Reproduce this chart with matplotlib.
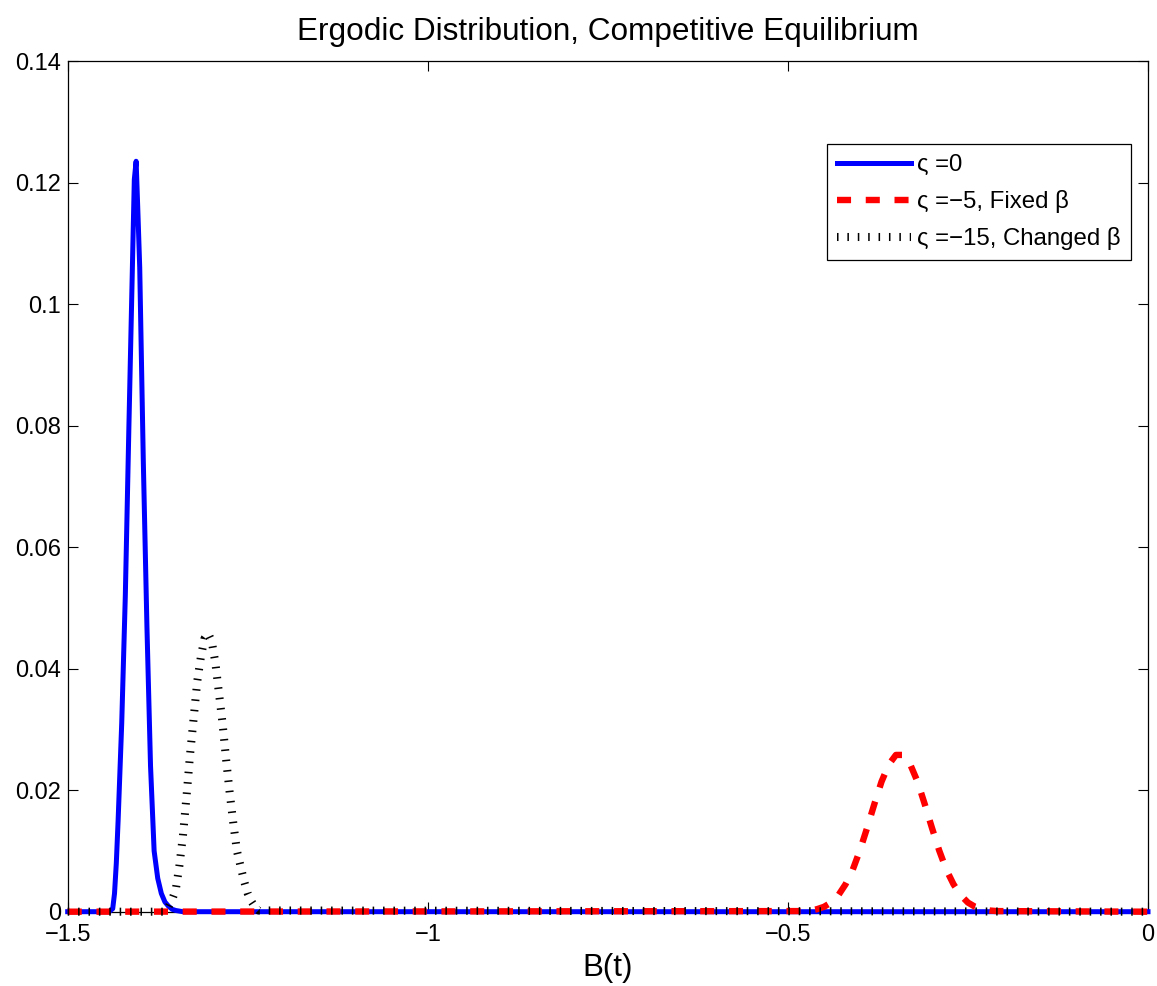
import matplotlib
matplotlib.use('Agg')
import matplotlib.pyplot as plt

# sigma = 0 (blue, solid)
x_blue = [-1.5, -1.4425, -1.4375, -1.435, -1.4325, -1.43, -1.425, -1.42, -1.415,
          -1.41, -1.4075, -1.405, -1.4025, -1.40, -1.395, -1.39, -1.385, -1.38,
          -1.375, -1.37, -1.365, -1.36, -1.355, -1.35, -1.345, -1.34, 0.0]
y_blue = [0.0, 0.0, 0.0005, 0.003, 0.008, 0.015, 0.031, 0.052, 0.080,
          0.107, 0.1205, 0.1235, 0.115, 0.106, 0.074, 0.047, 0.024, 0.010,
          0.0055, 0.003, 0.0016, 0.0009, 0.0004, 0.0002, 0.0001, 0.0, 0.0]

# sigma = -5, fixed beta (red, dashed)
x_red = [-1.5, -0.48, -0.47, -0.46, -0.45, -0.44, -0.43, -0.42, -0.41, -0.40,
         -0.39, -0.38, -0.37, -0.36, -0.35, -0.34, -0.33, -0.32, -0.31, -0.30,
         -0.29, -0.28, -0.27, -0.26, -0.25, -0.24, -0.23, -0.22, -0.21, 0.0]
y_red = [0.0, 0.0001, 0.0002, 0.0004, 0.0008, 0.0015, 0.0027, 0.0045, 0.0069, 0.0101,
         0.0138, 0.0177, 0.0214, 0.0242, 0.0258, 0.0258, 0.0242, 0.0214, 0.0177, 0.0138,
         0.0101, 0.0069, 0.0045, 0.0027, 0.0015, 0.0008, 0.0004, 0.0002, 0.0001, 0.0]

# sigma = -15, changed beta (black, dotted)
x_black = [-1.5, -1.365, -1.36, -1.355, -1.35, -1.345, -1.34, -1.335, -1.33, -1.325,
           -1.32, -1.315, -1.31, -1.305, -1.30, -1.295, -1.29, -1.285, -1.28, -1.275,
           -1.27, -1.265, -1.26, -1.255, -1.25, -1.245, -1.24, -1.235, 0.0]
y_black = [0.0, 0.0, 0.0008, 0.002, 0.0036, 0.0075, 0.0125, 0.019, 0.026, 0.032,
           0.038, 0.042, 0.045, 0.0458, 0.0445, 0.041, 0.036, 0.031, 0.025, 0.0195,
           0.0145, 0.010, 0.0075, 0.005, 0.003, 0.0017, 0.0008, 0.0002, 0.0]

labels = ['ς =0', 'ς =−5, Fixed β', 'ς =−15, Changed β']
xticks = [-1.5, -1.0, -0.5, 0.0]
xticklabels = ['−1.5', '−1', '−0.5', '0']
yticks = [0, 0.02, 0.04, 0.06, 0.08, 0.10, 0.12, 0.14]
yticklabels = ['0', '0.02', '0.04', '0.06', '0.08', '0.1', '0.12', '0.14']

plt.rcParams['font.family'] = ['Liberation Sans', 'DejaVu Sans']

fig = plt.figure(figsize=(11.57, 9.86), dpi=100)
ax = fig.add_axes([67.7 / 1157, 1 - 911.7 / 986, (1148 - 67.7) / 1157, (911.7 - 61) / 986])

ax.plot(x_blue, y_blue, color='#0000ff', lw=3.6, label=labels[0], clip_on=False, zorder=3)
ax.plot(x_red, y_red, color='#ff0000', lw=4.6, ls=(0, (2.2, 2.3)), label=labels[1],
        clip_on=False, zorder=3)
ax.plot(x_black, y_black, color='black', lw=5.8, ls=(0, (0.19, 1.1)), label=labels[2],
        clip_on=False, zorder=3)

ax.set_xlim(-1.5, 0)
ax.set_ylim(0, 0.14)
ax.set_xticks(xticks)
ax.set_xticklabels(xticklabels)
ax.set_yticks(yticks)
ax.set_yticklabels(yticklabels)
ax.tick_params(direction='in', length=7, width=0.8, top=True, right=True,
               labelsize=17, pad=9)
ax.tick_params(axis='y', pad=5)
for s in ax.spines.values():
    s.set_linewidth(0.9)

ax.set_title('Ergodic Distribution, Competitive Equilibrium', fontsize=22.7, pad=15)
ax.set_xlabel('B(t)', fontsize=22.5, labelpad=5)

leg = ax.legend(loc='upper right', bbox_to_anchor=(0.9843, 0.9024), fontsize=17.3,
                fancybox=False, framealpha=1, edgecolor='black', handlelength=3.05,
                handletextpad=0.28, labelspacing=0.58, borderpad=0.42, borderaxespad=0)
leg.get_frame().set_linewidth(0.9)

fig.savefig('out.png', dpi=100)
